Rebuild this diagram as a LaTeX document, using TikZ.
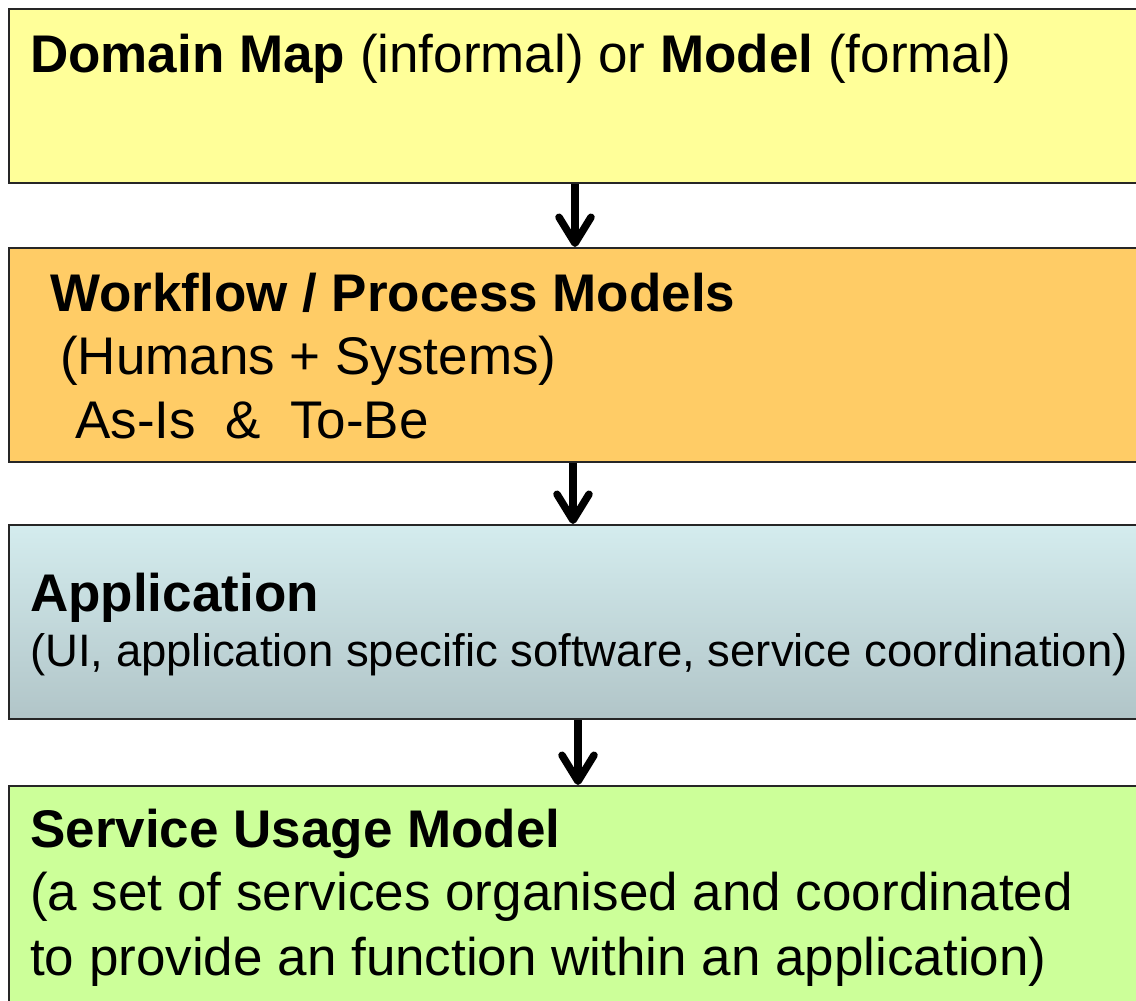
\documentclass[tikz,border=0pt]{standalone}
\usepackage{fontspec}
\setmainfont{Liberation Sans}
\usetikzlibrary{positioning,arrows.meta}

\definecolor{mapyellow}{HTML}{FFFF99}
\definecolor{floworange}{HTML}{FFCC66}
\definecolor{apptop}{HTML}{D4ECEE}
\definecolor{appbottom}{HTML}{B1C5C8}
\definecolor{usagegreen}{HTML}{CCFF99}

\begin{document}
\begin{tikzpicture}[x=1pt,y=-1pt,
    layer/.style={draw=black!85, line width=2pt, anchor=north west, inner sep=0pt, minimum width=1142pt},
    txt/.style={anchor=base west, inner sep=0pt, font=\fontsize{53}{64}\selectfont},
    smalltxt/.style={txt, font=\fontsize{45.5}{54}\selectfont},
    flow/.style={line width=7.5pt, -{Straight Barb[length=26pt,width=32pt,round]}}]
    \useasboundingbox (0,0) rectangle (1136,1001);
    \clip (0,0) rectangle (1136,1001);

    % Layers
    \node[layer, fill=mapyellow, minimum height=174pt] (dmap) at (8,8) {};
    \node[layer, fill=floworange, minimum height=214pt] (wflow) at (8,247) {};
    \node[layer, top color=apptop, bottom color=appbottom, minimum height=194pt] (app) at (8,524) {};
    \node[layer, fill=usagegreen, minimum height=230pt] (usage) at (8,785) {};

    % Domain map
    \node[txt] (dmaptxt) at (30,72) {\textbf{Domain Map} (informal) or \textbf{Model} (formal)};

    % Workflow
    \node[txt] (wflowhead) at (50,311) {\textbf{Workflow / Process Models}};
    \node[txt] (humans) at (60,374) {(Humans + Systems)};
    \node[txt] (asis) at (75,438) {As-Is\ \ \&\ \ To-Be};

    % Application
    \node[txt] (apphead) at (30,611) {\textbf{Application}};
    \node[smalltxt] (appsub) at (30,666) {(UI, application specific software, service coordination)};

    % Service usage
    \node[txt] (usagehead) at (30,847) {\textbf{Service Usage Model}};
    \node[txt] (usagesub) at (30,910) {(a set of services organised and coordinated};
    \node[txt] (usagesubb) at (30,975) {to provide an function within an application)};

    % Arrows
    \draw[flow] ([xshift=-5pt]dmap.south) -- ([xshift=-5pt]wflow.north);
    \draw[flow] ([xshift=-7pt]wflow.south) -- ([xshift=-7pt]app.north);
    \draw[flow] ([xshift=-2pt]app.south) -- ([xshift=-2pt]usage.north);
\end{tikzpicture}
\end{document}
